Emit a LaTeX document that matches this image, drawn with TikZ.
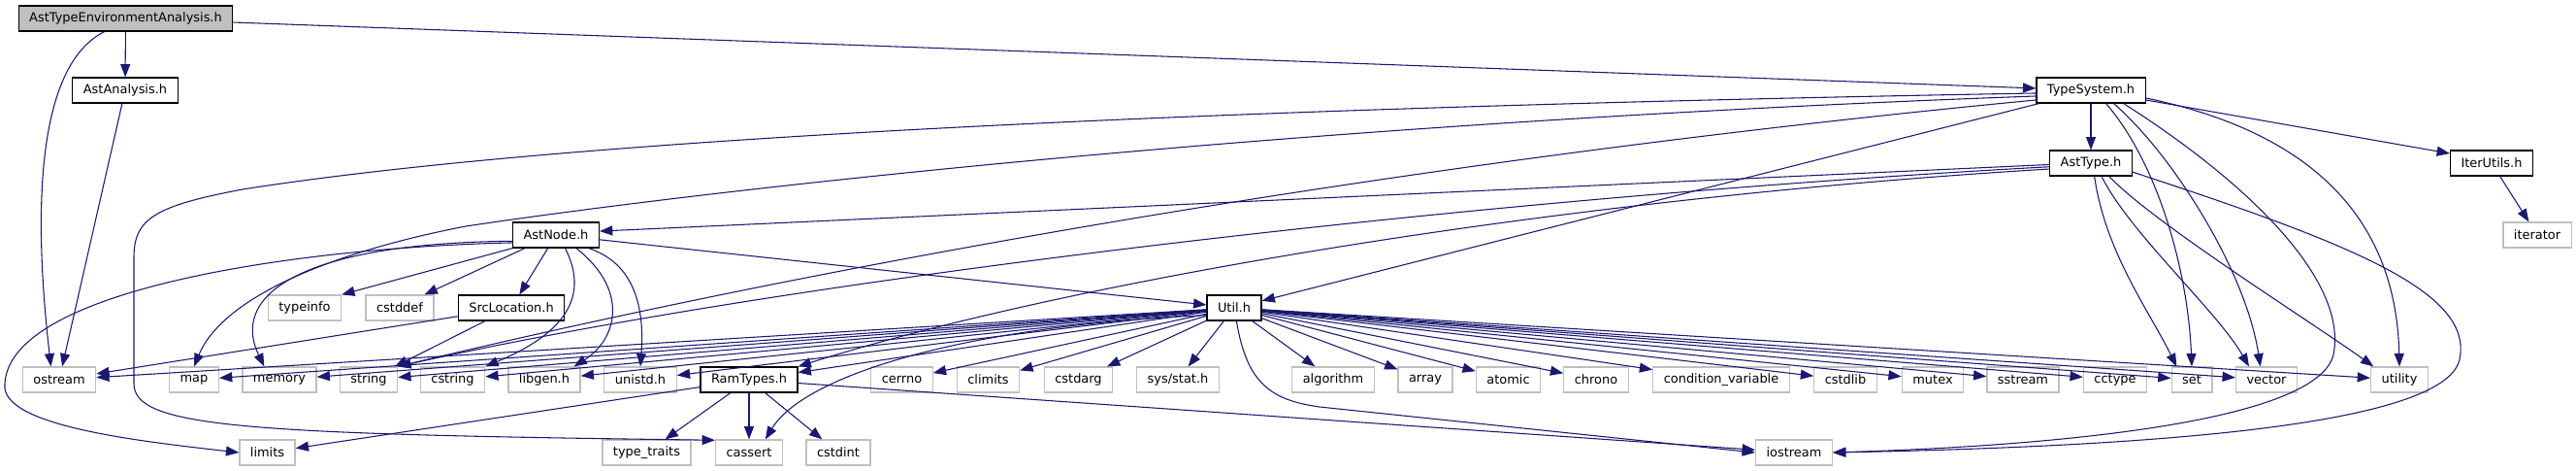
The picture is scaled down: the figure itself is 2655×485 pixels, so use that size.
\documentclass[tikz,border=0pt]{standalone}
\usepackage{fontspec}
\usepackage{tikz}
\usetikzlibrary{arrows.meta}
\newfontfamily\graphfont{DejaVu Sans}
\definecolor{edgeblue}{RGB}{25,25,112}
\definecolor{sysgray}{RGB}{191,191,191}
\definecolor{rootgray}{RGB}{191,191,191}
\tikzset{
  hdr/.style={draw=black, line width=0.9pt, fill=#1, rectangle, minimum height=19.5pt, inner xsep=8.25pt, inner ysep=0pt, font=\graphfont\fontsize{9.7}{11}\selectfont},
  hdr/.default={white},
  sys/.style={hdr, draw=sysgray},
  dep/.style={-{Triangle[length=10pt, width=7.5pt]}, line width=0.8pt, draw=edgeblue}
}
\begin{document}
\begin{tikzpicture}[x=0.75pt, y=-0.75pt]
  \useasboundingbox (0,0) rectangle (2655,485);
  \node[hdr={rootgray}] (atea) at (129.5,19) {AstTypeEnvironmentAnalysis.h};
  \node[hdr] (astanalysis) at (129,93) {AstAnalysis.h};
  \node[hdr] (typesystem) at (2155,93) {TypeSystem.h};
  \node[hdr] (asttype) at (2155,168) {AstType.h};
  \node[hdr] (iterutils) at (2568,168) {IterUtils.h};
  \node[hdr] (astnode) at (573,242) {AstNode.h};
  \node[sys] (iterator) at (2615,242) {iterator};
  \node[sys] (typeinfo) at (314,317) {typeinfo};
  \node[sys] (cstddef) at (412,317) {cstddef};
  \node[hdr] (srcloc) at (527,317) {SrcLocation.h};
  \node[hdr] (util) at (1272,317) {Util.h};
  \node[sys] (ostream) at (61,391) {ostream};
  \node[sys] (map) at (200,391) {map};
  \node[sys] (memory) at (288,391) {memory};
  \node[sys] (string) at (380,391) {string};
  \node[sys] (cstring) at (466.5,391) {cstring};
  \node[sys] (libgen) at (561,391) {libgen.h};
  \node[sys] (unistd) at (660,391) {unistd.h};
  \node[hdr] (ramtypes) at (772,391) {RamTypes.h};
  \node[sys] (cerrno) at (929.5,391) {cerrno};
  \node[sys] (climits) at (1018.5,391) {climits};
  \node[sys] (cstdarg) at (1111.5,391) {cstdarg};
  \node[sys] (sysstat) at (1214,391) {sys/stat.h};
  \node[sys] (algorithm) at (1374,391) {algorithm};
  \node[sys] (array) at (1469,391) {array};
  \node[sys] (atomic) at (1554.5,391) {atomic};
  \node[sys] (chrono) at (1645,391) {chrono};
  \node[sys] (condvar) at (1774,391) {condition\_variable};
  \node[sys] (cstdlib) at (1902,391) {cstdlib};
  \node[sys] (mutex) at (1992,391) {mutex};
  \node[sys] (sstream) at (2085,391) {sstream};
  \node[sys] (cctype) at (2180,391) {cctype};
  \node[sys] (set) at (2259,391) {set};
  \node[sys] (vector) at (2336,391) {vector};
  \node[sys] (utility) at (2473,391) {utility};
  \node[sys] (limits) at (275.5,466) {limits};
  \node[sys] (typetraits) at (666.5,466) {type\_traits};
  \node[sys] (cassert) at (772,466) {cassert};
  \node[sys] (cstdint) at (864,466) {cstdint};
  \node[sys] (iostream) at (1849,466) {iostream};

  \draw[dep] (atea) -- (astanalysis);
  \draw[dep] (atea.212) .. controls (42,65) and (32,200) .. (ostream.122);
  \draw[dep] (atea) -- (typesystem);
  \draw[dep] (astanalysis) -- (ostream);

  \draw[dep] (typesystem) -- (asttype);
  \draw[dep] (typesystem.-10) -- (iterutils.167);
  \draw[dep] (iterutils) -- (iterator);
  \draw[dep] (typesystem) -- (util);
  \draw[dep] (typesystem.186) .. controls (1300,128) and (700,200) .. (480,233) .. controls (330,262) and (228,310) .. (map.north);
  \draw[dep] (typesystem.183) .. controls (1300,110) and (600,140) .. (250,195) .. controls (160,212) and (138,225) .. (138,265) -- (138,395) .. controls (138,440) and (250,447) .. (cassert.160);
  \draw[dep] (typesystem.190) .. controls (1500,160) and (900,260) .. (string.north east);
  \draw[dep] (typesystem.-41) .. controls (2225,170) and (2255,280) .. (set.north);
  \draw[dep] (typesystem.-30) .. controls (2240,160) and (2315,280) .. (vector.115);
  \draw[dep] (typesystem.-8) .. controls (2400,140) and (2470,240) .. (utility.north);
  \draw[dep] (typesystem.-22) .. controls (2320,190) and (2420,290) .. (2405,365) .. controls (2390,430) and (2150,458) .. (iostream.east);

  \draw[dep] (asttype.182) -- (astnode.5);
  \draw[dep] (asttype.185) .. controls (1500,205) and (800,290) .. (string.north east);
  \draw[dep] (asttype.188) .. controls (1600,205) and (1100,290) .. (ramtypes.north east);
  \draw[dep] (asttype.-75) .. controls (2170,260) and (2215,320) .. (set.139);
  \draw[dep] (asttype.-51) .. controls (2195,240) and (2285,320) .. (vector.143);
  \draw[dep] (asttype.-36) .. controls (2220,230) and (2380,330) .. (utility.153);
  \draw[dep] (asttype.-12) .. controls (2420,250) and (2550,300) .. (2535,370) .. controls (2520,440) and (2200,460) .. (iostream.east);

  \draw[dep] (astnode.south west) -- (typeinfo.north east);
  \draw[dep] (astnode.-157) -- (cstddef.28);
  \draw[dep] (astnode) -- (srcloc);
  \draw[dep] (astnode.-55) .. controls (605,300) and (590,340) .. (cstring.north east);
  \draw[dep] (astnode.-33) .. controls (650,300) and (635,350) .. (libgen.24);
  \draw[dep] (astnode.-22) .. controls (650,270) and (665,310) .. (unistd.north);
  \draw[dep] (astnode) -- (util);
  \draw[dep] (astnode.188) .. controls (320,250) and (235,300) .. (memory.139);
  \draw[dep] (astnode.190) .. controls (300,255) and (0,300) .. (5,400) .. controls (10,440) and (150,455) .. (limits.west);

  \draw[dep] (srcloc) -- (ostream);
  \draw[dep] (srcloc) -- (string);

  \draw[dep] (util) -- (ostream);
  \draw[dep] (util) -- (map);
  \draw[dep] (util) -- (memory);
  \draw[dep] (util) -- (string);
  \draw[dep] (util) -- (cstring);
  \draw[dep] (util) -- (libgen);
  \draw[dep] (util) -- (unistd);
  \draw[dep] (util) -- (ramtypes);
  \draw[dep] (util.195) .. controls (1000,335) and (830,385) .. (cassert.39);
  \draw[dep] (util) -- (cerrno);
  \draw[dep] (util) -- (climits);
  \draw[dep] (util) -- (cstdarg);
  \draw[dep] (util) -- (sysstat);
  \draw[dep] (util) -- (algorithm);
  \draw[dep] (util) -- (array);
  \draw[dep] (util) -- (atomic);
  \draw[dep] (util) -- (chrono);
  \draw[dep] (util) -- (condvar);
  \draw[dep] (util) -- (cstdlib);
  \draw[dep] (util) -- (mutex);
  \draw[dep] (util) -- (sstream);
  \draw[dep] (util) -- (cctype);
  \draw[dep] (util) -- (set);
  \draw[dep] (util) -- (vector);
  \draw[dep] (util) -- (utility);
  \draw[dep] (util.-80) .. controls (1285,395) and (1310,412) .. (1360,419) -- (iostream.west);

  \draw[dep] (ramtypes) -- (limits);
  \draw[dep] (ramtypes) -- (typetraits);
  \draw[dep] (ramtypes) -- (cassert);
  \draw[dep] (ramtypes) -- (cstdint);
  \draw[dep] (ramtypes) -- (iostream);
\end{tikzpicture}
\end{document}
